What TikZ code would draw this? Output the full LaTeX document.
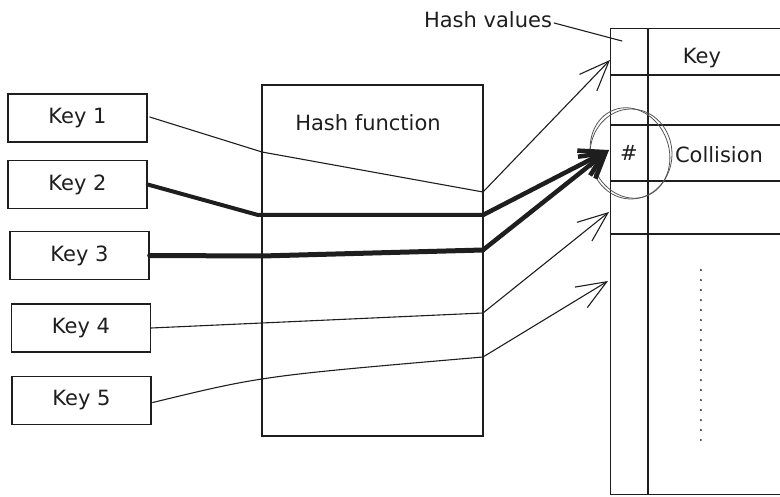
\documentclass[tikz,border=0pt]{standalone}
\usepackage{fontspec}
\setmainfont{DejaVu Sans}
\usetikzlibrary{arrows.meta}
\definecolor{ink}{HTML}{1E1E1E}
\definecolor{ring}{HTML}{555555}
\begin{document}
\begin{tikzpicture}[x=1pt,y=-1pt,
  inkline/.style={draw=ink, line width=1.1pt, line join=round, line cap=round},
  frame/.style={draw=ink, line width=1.4pt},
  keybox/.style={frame, minimum width=139pt, minimum height=48pt, inner sep=0pt,
    font=\fontsize{21}{24}\selectfont, text=ink},
  txt/.style={font=\fontsize{21}{24}\selectfont, inner sep=0pt, text=ink},
  thinarrow/.style={inkline, -{Straight Barb[length=30pt,width=24pt,line width=1.1pt]}},
  heavyarrow/.style={draw=ink, line width=4.5pt, line join=round,
    -{Straight Barb[length=24pt,width=28pt,line width=4.5pt]}},
]
\useasboundingbox (0,0) rectangle (780,497);
\clip (0,0) rectangle (780,497);

% input keys
\node[keybox] (k1) at (77.5,118) {Key 1};
\node[keybox] (k2) at (77.5,184.5) {Key 2};
\node[keybox] (k3) at (79.5,255.5) {Key 3};
\node[keybox] (k4) at (81,328) {Key 4};
\node[keybox] (k5) at (81.5,400.5) {Key 5};

% hash function block
\node[frame, minimum width=221pt, minimum height=351pt, inner sep=0pt] (hf) at (372.5,260.5) {};
\node[txt] (hft) at (368,123) {Hash function};

% bucket table
\node[frame, minimum width=200pt, minimum height=466pt, inner sep=0pt, anchor=north west] (tbl) at (610,28) {};
\draw[frame] (648,28) -- (648,494);
\foreach \yy in {75,125,181,234} \draw[frame] (610,\yy) -- (790,\yy);
\node[txt] (hkey) at (702,58) {Key};
\node[txt] (hash) at (629,153) {\#};
\node[txt] (coll) at (719,155) {Collision};
\draw[ink, line width=2pt, line cap=round, dash pattern=on 0.1pt off 9.9pt] (701,270) -- (701,440);

% collision marker
\draw[ring, line width=0.8pt] (631,154) ellipse [x radius=41, y radius=45];
\draw[ring, line width=0.8pt, rotate around={20:(630,153)}] (630,153) ellipse [x radius=39, y radius=46];

% caption
\node[txt] (hv) at (488,20) {Hash values};
\coordinate (hvend) at (622,41);
\draw[inkline] (hv.east) ++(2,3) -- (hvend);

% slot entry points
\coordinate (t1) at (610,60);
\coordinate (t2) at (609,150);
\coordinate (t3) at (609,212);
\coordinate (t4) at (608,281);

% route bends
\coordinate (a1) at (262,152);  \coordinate (b1) at (483,192);
\coordinate (a2) at (258,215);  \coordinate (b2) at (483,215);
\coordinate (a3) at (262,256);  \coordinate (b3) at (483,250);
\coordinate (b4) at (483,313);
\coordinate (b5) at (483,357);

% key routes through the hash function
\draw[inkline] (k1.east) ++(2,-1) -- (a1) -- (b1);
\draw[thinarrow] (b1) -- (t1);
\draw[draw=ink, line width=4pt, line join=round, line cap=round] (k2.east) -- (a2) -- (b2);
\draw[heavyarrow] (b2) -- (t2);
\draw[draw=ink, line width=5pt, line join=round, line cap=round] (k3.east) -- (a3) -- (b3);
\draw[heavyarrow] (b3) -- (t2);
\draw[inkline] (k4.east) -- (b4);
\draw[thinarrow] (b4) -- (t3);
\draw[inkline] (k5.east) ++(1,2) .. controls (262,376) .. (b5);
\draw[thinarrow] (b5) -- (t4);
\end{tikzpicture}
\end{document}
